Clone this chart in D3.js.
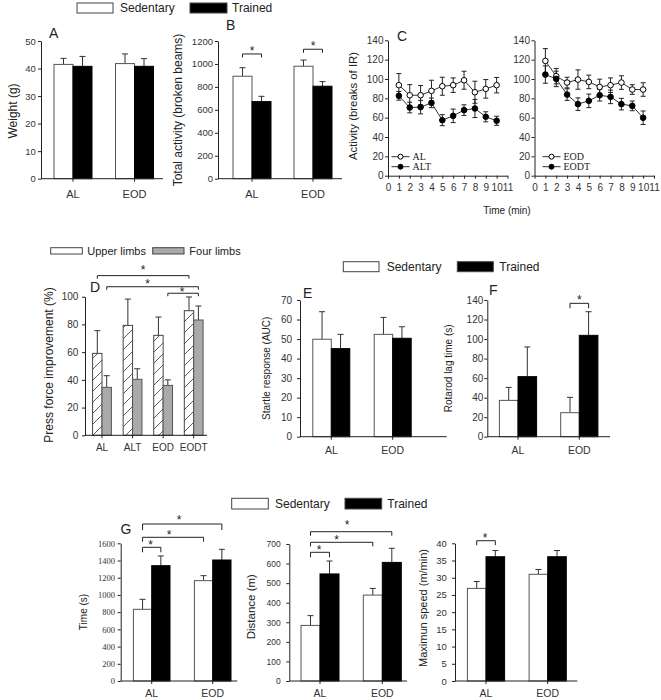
<!DOCTYPE html>
<html><head><meta charset="utf-8">
<script src="https://cdn.jsdelivr.net/npm/d3@7"></script>
<style>body{margin:0;background:#fff}svg{display:block}</style>
</head><body>
<svg id="chart" width="661" height="700"></svg>
<script>
// ---------------- DATA ----------------
const groups = ["AL", "EOD"];
const weightSed = [41.5, 41.8], weightSedErr = [2.2, 3.5];
const weightTr = [40.8, 40.8], weightTrErr = [3.6, 2.8];
const weightTicks = [0, 10, 20, 30, 40, 50];

const activitySed = [893, 980], activitySedErr = [74, 54];
const activityTr = [672, 806], activityTrErr = [46, 40];
const activityTicks = [0, 200, 400, 600, 800, 1000, 1200];

const minutes = [1, 2, 3, 4, 5, 6, 7, 8, 9, 10];
const minuteTicks = [0, 1, 2, 3, 4, 5, 6, 7, 8, 9, 10, 11];
const irTicks = [0, 20, 40, 60, 80, 100, 120, 140];
const actAL = [93.6, 83.2, 83.2, 87.7, 92.5, 93.6, 98.7, 86.3, 89.8, 93.6];
const actALErr = [12, 11, 10, 11, 9.3, 7.5, 9.3, 11.4, 9.6, 8];
const actALT = [82.6, 70.5, 70.9, 75.3, 57.4, 61.9, 67.8, 69.5, 60.9, 56.8];
const actALTErr = [4.5, 5.5, 7, 5, 5.7, 7, 5.5, 9.4, 5.2, 4.7];
const actEOD = [118.7, 102.9, 96.3, 99.4, 97, 91.8, 93.6, 96.3, 89.1, 89.1];
const actEODErr = [12.7, 8, 5.5, 10, 7, 8, 7.5, 7, 5, 7];
const actEODT = [104.6, 100.1, 83.9, 74, 77.4, 83.2, 81.5, 74, 72.2, 59.9];
const actEODTErr = [9, 8, 6, 6.5, 7, 6, 7, 6, 5, 7];

const pressGroups = ["AL", "ALT", "EOD", "EODT"];
const pressUpper = [59.1, 79.3, 72.1, 89.9], pressUpperErr = [16.4, 19, 13.2, 9.9];
const pressFour = [34.6, 40.4, 36, 83.2], pressFourErr = [8.4, 7.6, 4, 10.1];
const pressTicks = [0, 20, 40, 60, 80, 100];

const startleSed = [49.9, 52.4], startleSedErr = [14.1, 8.7];
const startleTr = [45.1, 50.4], startleTrErr = [7.3, 5.9];
const startleTicks = [0, 10, 20, 30, 40, 50, 60, 70];

const rotarodSed = [37.2, 24.6], rotarodSedErr = [13.3, 15.7];
const rotarodTr = [61.5, 103.8], rotarodTrErr = [30.4, 24.2];
const rotarodTicks = [0, 20, 40, 60, 80, 100, 120, 140];

const timeSed = [833, 1166], timeSedErr = [116, 58];
const timeTr = [1340, 1406], timeTrErr = [113, 124];
const timeTicks = [0, 200, 400, 600, 800, 1000, 1200, 1400, 1600];

const distSed = [284, 439], distSedErr = [50, 34];
const distTr = [547, 606], distTrErr = [66, 72];
const distTicks = [0, 100, 200, 300, 400, 500, 600, 700];

const speedSed = [26.9, 31.0], speedSedErr = [2.0, 1.4];
const speedTr = [36.1, 36.1], speedTrErr = [1.8, 1.8];
const speedTicks = [0, 5, 10, 15, 20, 25, 30, 35, 40];

// ---------------- DRAWING ----------------
const SANS = '"Liberation Sans", Arial, sans-serif';
const SERIF = '"Liberation Serif", "Times New Roman", serif';
const fmt = d3.format("d");
const svg = d3.select("#chart");
const defs = svg.append("defs");
const pat = defs.append("pattern").attr("id", "hatch").attr("patternUnits", "userSpaceOnUse")
  .attr("width", 11).attr("height", 11);
pat.append("rect").attr("width", 11).attr("height", 11).attr("fill", "#fff");
pat.append("path").attr("d", "M0,11L11,0M-3,3L3,-3M8,14L14,8")
  .attr("stroke", "#333").attr("stroke-width", 0.8);

const WHITE = {fill: "#fff", stroke: "#555"};
const BLACK = {fill: "#000", stroke: "#000"};

function styleAxis(sel, size, family) {
  sel.attr("font-size", null).attr("font-family", null);
  sel.select(".domain").attr("stroke", "#222");
  sel.selectAll(".tick line").attr("stroke", "#222");
  sel.selectAll(".tick text").attr("fill", "#333")
    .style("font-size", size + "px").style("font-family", family);
}

function vLabel(text, x, y, size) {
  svg.append("text").attr("transform", `translate(${x},${y}) rotate(-90)`)
    .attr("text-anchor", "middle").attr("dominant-baseline", "central")
    .style("font-family", SANS).style("font-size", size + "px").attr("fill", "#222").text(text);
}
function letter(text, x, y) {
  svg.append("text").attr("x", x).attr("y", y).style("font-family", SANS)
    .style("font-size", "14px").attr("fill", "#222").text(text);
}

function barPanel(o) {
  const g = svg.append("g");
  const n = o.groups.length, m = o.series.length;
  const step = (o.c1 - o.c0) / (n - 1);
  const p = 1 - o.barW * m / step;
  const x = d3.scaleBand().domain(o.groups).range([o.c0 - step / 2, o.c1 + step / 2])
    .paddingInner(p).paddingOuter(p / 2);
  const xi = d3.scaleBand().domain(d3.range(m)).range([0, x.bandwidth()]);
  const y = d3.scaleLinear().domain([0, o.yMax]).range([o.yBot, o.yTop]);
  o.series.forEach((s, si) => {
    const rows = o.groups.map((gn, j) => ({g: gn, v: s.vals[j], e: s.errs[j]}));
    const cx = d => x(d.g) + xi(si) + xi.bandwidth() / 2;
    g.selectAll(null).data(rows).join("path")
      .attr("d", d => `M${cx(d)},${y(d.v)}V${y(d.v + d.e)}M${cx(d) - 3},${y(d.v + d.e)}H${cx(d) + 3}`)
      .attr("stroke", "#333").attr("fill", "none");
    g.selectAll(null).data(rows).join("rect")
      .attr("x", d => x(d.g) + xi(si)).attr("width", xi.bandwidth())
      .attr("y", d => y(d.v)).attr("height", d => y(0) - y(d.v))
      .attr("fill", s.fill).attr("stroke", s.stroke).attr("stroke-width", 1);
  });
  const ya = g.append("g").attr("transform", `translate(${o.xa},0)`)
    .call(d3.axisLeft(y).tickValues(o.ticks).tickFormat(fmt).tickSize(3).tickSizeOuter(0).tickPadding(o.yPad));
  styleAxis(ya, o.yFont, o.yFamily || SANS);
  const xa = g.append("g").attr("transform", `translate(0,${o.yBot})`)
    .call(d3.axisBottom(x).tickSize(3).tickSizeOuter(0).tickPadding(o.xPad));
  xa.select(".domain").attr("d", `M${o.xa},0H${o.xb}`);
  styleAxis(xa, o.xFont, SANS);
  const pos = (gi, si) => x(o.groups[gi]) + xi(si) + xi.bandwidth() / 2;
  return {g, x, xi, y, pos};
}

function bracket(P, a, b, level, drop, gap, dx) {
  const x1 = P.pos(a[0], a[1]), x2 = P.pos(b[0], b[1]), yy = P.y(level);
  P.g.append("path").attr("d", `M${x1},${yy + drop}V${yy}H${x2}V${yy + drop}`)
    .attr("stroke", "#222").attr("fill", "none");
  const fs = 12;
  P.g.append("text").attr("x", (x1 + x2) / 2 + (dx || 0)).attr("y", yy - gap + 0.58 * fs)
    .attr("text-anchor", "middle").style("font-family", SANS).style("font-size", fs + "px")
    .attr("fill", "#222").text("*");
}

function legend(y, h, items, size) {
  items.forEach(it => {
    svg.append("rect").attr("x", it.bx).attr("y", y).attr("width", it.bw).attr("height", h)
      .attr("fill", it.fill).attr("stroke", "#444").attr("stroke-width", 1);
    svg.append("text").attr("x", it.tx).attr("y", y + h / 2).attr("dominant-baseline", "central")
      .style("font-family", SANS).style("font-size", size + "px").attr("fill", "#222").text(it.label);
  });
}

// ---- Top legend
legend(3, 10, [
  {bx: 77, bw: 36, fill: "#fff", tx: 120, label: "Sedentary"},
  {bx: 190, bw: 37, fill: "#000", tx: 232, label: "Trained"}], 12);

// ---- Panel A
barPanel({groups, series: [{vals: weightSed, errs: weightSedErr, ...WHITE}, {vals: weightTr, errs: weightTrErr, ...BLACK}],
  xa: 41, xb: 163, c0: 73, c1: 134.5, barW: 19, yBot: 178.7, yTop: 41, yMax: 50, ticks: weightTicks,
  yPad: 2.3, yFont: 9.5, xPad: 8.5, xFont: 11});
vLabel("Weight (g)", 13, 111, 12);
letter("A", 49, 38);

// ---- Panel B
const PB = barPanel({groups, series: [{vals: activitySed, errs: activitySedErr, ...WHITE}, {vals: activityTr, errs: activityTrErr, ...BLACK}],
  xa: 218, xb: 342, c0: 252, c1: 313, barW: 19, yBot: 178.7, yTop: 41, yMax: 1200, ticks: activityTicks,
  yPad: 2, yFont: 9.5, xPad: 8.5, xFont: 11});
bracket(PB, [0, 0], [0, 1], 1087, 3.5, 6, 0);
bracket(PB, [1, 0], [1, 1], 1128, 3.5, 6, 0);
vLabel("Total activity (broken beams)", 178, 110, 12);
letter("B", 226, 30);

// ---- Panel C
function linePanel(o) {
  const g = svg.append("g");
  const x = d3.scaleLinear().domain([0, 11]).range([o.x0, o.x1]);
  const y = d3.scaleLinear().domain([0, 140]).range([o.yBot, o.yTop]);
  const ya = g.append("g").attr("transform", `translate(${o.x0},0)`)
    .call(d3.axisLeft(y).tickValues(irTicks).tickFormat(fmt).tickSize(3).tickSizeOuter(0).tickPadding(1.5));
  styleAxis(ya, 10, SANS);
  const xa = g.append("g").attr("transform", `translate(0,${o.yBot})`)
    .call(d3.axisBottom(x).tickValues(minuteTicks).tickFormat(fmt).tickSize(3).tickSizeOuter(0).tickPadding(5));
  styleAxis(xa, 10, SANS);
  const data = o.series.map(s => ({s, pts: minutes.map((mm, i) => ({m: mm, v: s.vals[i], e: s.errs[i]}))}));
  data.forEach(d => {
    g.append("path").datum(d.pts).attr("d", d3.line().x(p => x(p.m)).y(p => y(p.v)))
      .attr("stroke", "#333").attr("fill", "none").attr("stroke-width", 1);
    g.selectAll(null).data(d.pts).join("path")
      .attr("d", p => `M${x(p.m)},${y(p.v - p.e)}V${y(p.v + p.e)}M${x(p.m) - 2.5},${y(p.v + p.e)}H${x(p.m) + 2.5}M${x(p.m) - 2.5},${y(p.v - p.e)}H${x(p.m) + 2.5}`)
      .attr("stroke", "#222").attr("fill", "none");
  });
  data.forEach(d => {
    g.selectAll(null).data(d.pts).join("circle")
      .attr("cx", p => x(p.m)).attr("cy", p => y(p.v)).attr("r", 2.8)
      .attr("fill", d.s.filled ? "#000" : "#fff").attr("stroke", "#000").attr("stroke-width", 1);
  });
  // legend
  o.series.forEach((s, i) => {
    const ly = o.legY + i * 10;
    g.append("line").attr("x1", o.legX).attr("x2", o.legX + 18).attr("y1", ly).attr("y2", ly).attr("stroke", "#333");
    g.append("circle").attr("cx", o.legX + 9).attr("cy", ly).attr("r", 2.5)
      .attr("fill", s.filled ? "#000" : "#fff").attr("stroke", "#000");
    g.append("text").attr("x", o.legX + 21).attr("y", ly).attr("dominant-baseline", "central")
      .style("font-family", SERIF).style("font-size", "10px").attr("fill", "#222").text(s.name);
  });
}
linePanel({x0: 388, x1: 507.5, yBot: 175.7, yTop: 40.3, legX: 391.5, legY: 156.7,
  series: [{name: "AL", vals: actAL, errs: actALErr, filled: false}, {name: "ALT", vals: actALT, errs: actALTErr, filled: true}]});
linePanel({x0: 534.5, x1: 654, yBot: 175.7, yTop: 40.3, legX: 542.5, legY: 156.7,
  series: [{name: "EOD", vals: actEOD, errs: actEODErr, filled: false}, {name: "EODT", vals: actEODT, errs: actEODTErr, filled: true}]});
vLabel("Activity (breaks of IR)", 353, 106, 11.4);
letter("C", 397, 41);
svg.append("text").attr("x", 507).attr("y", 213.5).attr("text-anchor", "middle")
  .style("font-family", SANS).style("font-size", "10px").attr("fill", "#222").text("Time (min)");

// ---- Panel D
legend(247.7, 6.3, [
  {bx: 50.7, bw: 31.6, fill: "#fff", tx: 87.3, label: "Upper limbs"},
  {bx: 152.7, bw: 31.3, fill: "#aaa", tx: 189.3, label: "Four limbs"}], 11);
const PD = barPanel({groups: pressGroups,
  series: [{vals: pressUpper, errs: pressUpperErr, fill: "url(#hatch)", stroke: "#444"}, {vals: pressFour, errs: pressFourErr, fill: "#aaa", stroke: "#555"}],
  xa: 85, xb: 207, c0: 102, c1: 193.7, barW: 9.4, yBot: 435.3, yTop: 296.7, yMax: 100, ticks: pressTicks,
  yPad: 3.7, yFont: 10, xPad: 5.9, xFont: 10});
bracket(PD, [0, 0], [3, 0], 115.2, 3, 8.5, 0);
bracket(PD, [0, 1], [3, 1], 107.2, 3, 6, -5);
bracket(PD, [2, 1], [3, 1], 102.5, 3, 4, -1);
vLabel("Press force improvement (%)", 48.5, 365, 12);
letter("D", 90, 292);

// ---- Legend E/F
legend(261.7, 10, [
  {bx: 343.3, bw: 35.7, fill: "#fff", tx: 386.7, label: "Sedentary"},
  {bx: 457.3, bw: 36, fill: "#000", tx: 499.3, label: "Trained"}], 12);

// ---- Panel E
barPanel({groups, series: [{vals: startleSed, errs: startleSedErr, ...WHITE}, {vals: startleTr, errs: startleTrErr, ...BLACK}],
  xa: 300, xb: 446.7, c0: 331.3, c1: 392.7, barW: 18.5, yBot: 436.7, yTop: 300, yMax: 70, ticks: startleTicks,
  yPad: 5, yFont: 10, xPad: 6.8, xFont: 10.5});
vLabel("Startle response (AUC)", 266.7, 368.3, 10);
letter("E", 303, 298);

// ---- Panel F
const PF = barPanel({groups, series: [{vals: rotarodSed, errs: rotarodSedErr, ...WHITE}, {vals: rotarodTr, errs: rotarodTrErr, ...BLACK}],
  xa: 487.3, xb: 610, c0: 518, c1: 579.3, barW: 18.6, yBot: 436.7, yTop: 300, yMax: 140, ticks: rotarodTicks,
  yPad: 1, yFont: 10, xPad: 6.8, xFont: 10.5});
bracket(PF, [1, 0], [1, 1], 136.6, 5, 6.5, 0);
vLabel("Rotarod lag time (s)", 448.3, 368.3, 10);
letter("F", 489, 295);

// ---- Legend G
legend(498.3, 10.7, [
  {bx: 231.7, bw: 36.6, fill: "#fff", tx: 275, label: "Sedentary"},
  {bx: 345, bw: 36.7, fill: "#000", tx: 387.3, label: "Trained"}], 12);

// ---- Panel G: time
const PT = barPanel({groups, series: [{vals: timeSed, errs: timeSedErr, ...WHITE}, {vals: timeTr, errs: timeTrErr, ...BLACK}],
  xa: 120.7, xb: 237.3, c0: 151.7, c1: 212.7, barW: 18.3, yBot: 681, yTop: 543.3, yMax: 1600, ticks: timeTicks,
  yPad: 2.7, yFont: 8.5, yFamily: SERIF, xPad: 6, xFont: 10.5});
bracket(PT, [0, 0], [0, 1], 1553.5, 5, 5.6, -1);
bracket(PT, [0, 0], [1, 0], 1669.7, 4.4, 5.6, -4);
bracket(PT, [0, 0], [1, 1], 1824.2, 6, 7.3, -3);
vLabel("Time (s)", 83.3, 612, 10);
letter("G", 120.5, 534);

// ---- Panel G: distance
const PDi = barPanel({groups, series: [{vals: distSed, errs: distSedErr, ...WHITE}, {vals: distTr, errs: distTrErr, ...BLACK}],
  xa: 289.3, xb: 407, c0: 320, c1: 382.3, barW: 19, yBot: 681, yTop: 544, yMax: 700, ticks: distTicks,
  yPad: 5.6, yFont: 8.5, xPad: 6, xFont: 10.5});
bracket(PDi, [0, 0], [0, 1], 657.6, 5, 5, -1);
bracket(PDi, [0, 0], [1, 0], 708.7, 4, 5.6, -5);
bracket(PDi, [0, 0], [1, 1], 762.8, 4, 10, -4);
vLabel("Distance (m)", 250.7, 606.7, 11.5);

// ---- Panel G: speed
const PS = barPanel({groups, series: [{vals: speedSed, errs: speedSedErr, ...WHITE}, {vals: speedTr, errs: speedTrErr, ...BLACK}],
  xa: 455, xb: 577.3, c0: 486, c1: 547.7, barW: 18.6, yBot: 681, yTop: 543.3, yMax: 40, ticks: speedTicks,
  yPad: 5.3, yFont: 9.5, xPad: 6, xFont: 10.5});
bracket(PS, [0, 0], [0, 1], 40.75, 4.5, 5.7, -1);
vLabel("Maximun speed (m/min)", 423.3, 608, 11);
</script>
</body></html>
